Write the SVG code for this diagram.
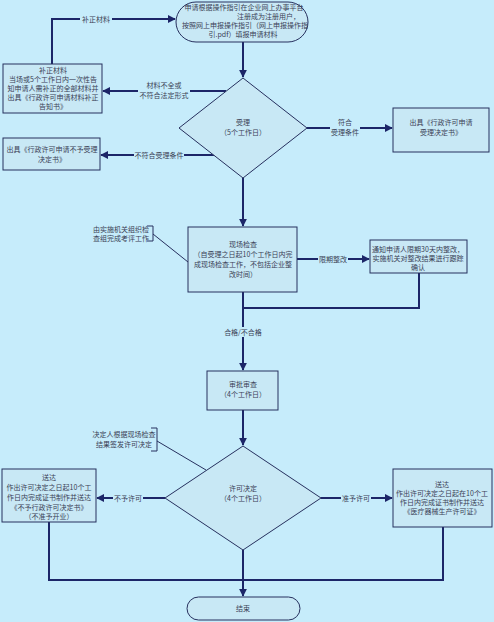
<svg xmlns="http://www.w3.org/2000/svg" width="494" height="622" viewBox="0 0 494 622">
<style>
text{font-family:"Noto Sans CJK SC","Liberation Sans",sans-serif;font-size:7px;fill:#3a3f55;text-anchor:middle}
.box{fill:#c8e8f5;stroke:#26305e;stroke-width:1}
.ln{fill:none;stroke:#1c2668;stroke-width:2}
.thin{fill:none;stroke:#26305e;stroke-width:1}
.lb{fill:#c6ecfb}
</style>
<defs>
<marker id="ah" viewBox="0 0 10 10" refX="9" refY="5" markerWidth="4" markerHeight="4" orient="auto" markerUnits="strokeWidth">
<path d="M0,0L10,5L0,10z" fill="#1c2668"/>
</marker>
</defs>
<rect x="0" y="0" width="494" height="622" fill="#c6ecfb"/>
<g id="connectors">
<path class="ln" d="M243,42V77" marker-end="url(#ah)"/>
<path class="ln" d="M226,91H103" marker-end="url(#ah)"/>
<path class="ln" d="M52,64V19H175" marker-end="url(#ah)"/>
<path class="ln" d="M307,128H392" marker-end="url(#ah)"/>
<path class="ln" d="M215,155H101" marker-end="url(#ah)"/>
<path class="ln" d="M243,178V226" marker-end="url(#ah)"/>
<path class="thin" d="M147,226H153V241H147M153,234L188,262"/>
<path class="ln" d="M297,259H369" marker-end="url(#ah)"/>
<path class="ln" d="M419,273V308H243"/>
<path class="ln" d="M243,292V370" marker-end="url(#ah)"/>
<path class="ln" d="M243,410V445" marker-end="url(#ah)"/>
<path class="thin" d="M151,428H157V451H151M157,441L206,470"/>
<path class="ln" d="M165,498H97" marker-end="url(#ah)"/>
<path class="ln" d="M321,498H392" marker-end="url(#ah)"/>
<path class="ln" d="M49,522V580H443V527"/>
<path class="ln" d="M243,550V596" marker-end="url(#ah)"/>
<rect class="lb" x="80" y="14" width="32" height="10"/>
<text x="96" y="22">补正材料</text>
<rect class="lb" x="138" y="80" width="52" height="20"/>
<text x="164" y="88">材料不全或</text>
<text x="164" y="98">不符合法定形式</text>
<rect class="lb" x="330" y="118" width="30" height="20"/>
<text x="345" y="125">符合</text>
<text x="345" y="135">受理条件</text>
<rect class="lb" x="134" y="150" width="50" height="10"/>
<text x="159" y="158">不符合受理条件</text>
<rect class="lb" x="318" y="254" width="30" height="10"/>
<text x="333" y="262">限期整改</text>
<rect class="lb" x="222" y="327" width="42" height="10"/>
<text x="243" y="335">合格/不合格</text>
<rect class="lb" x="113" y="493" width="30" height="10"/>
<text x="128" y="501">不予许可</text>
<rect class="lb" x="341" y="493" width="30" height="10"/>
<text x="356" y="501">准予许可</text>
</g>
<g id="start">
<rect class="box" x="176" y="2" width="132" height="40" rx="20"/>
<text x="244" y="10">申请根据操作指引在企业网上办事平台</text>
<text x="300" y="19" style="text-anchor:end">注册成为注册用户，</text>
<text x="245" y="28">按照网上申报操作指引（网上申报操作指</text>
<text x="243" y="37">引.pdf）填报申请材料</text>
</g>
<g id="buzheng">
<rect class="box" x="3" y="64" width="99" height="49"/>
<text x="53" y="73">补正材料</text>
<text x="53" y="82">当场或5个工作日内一次性告</text>
<text x="53" y="91">知申请人需补正的全部材料并</text>
<text x="53" y="100">出具《行政许可申请材料补正</text>
<text x="53" y="109">告知书》</text>
</g>
<g id="shouli">
<path class="box" d="M243,78L307,128L243,178L179,128z"/>
<text x="243" y="125">受理</text>
<text x="243" y="135">（5个工作日）</text>
</g>
<g id="shoulijueding">
<rect class="box" x="393" y="108" width="96" height="44"/>
<text x="441" y="125">出具《行政许可申请</text>
<text x="441" y="135">受理决定书》</text>
</g>
<g id="buyushouli">
<rect class="box" x="3" y="138" width="97" height="32"/>
<text x="52" y="152">出具《行政许可申请不予受理</text>
<text x="52" y="162">决定书》</text>
</g>
<g id="note1">
<text x="121" y="232">由实施机关组织检</text>
<text x="121" y="241">查组完成考评工作</text>
</g>
<g id="xianchang">
<rect class="box" x="188" y="227" width="109" height="65"/>
<text x="243" y="247">现场检查</text>
<text x="243" y="257">（自受理之日起10个工作日内完</text>
<text x="243" y="267">成现场检查工作，不包括企业整</text>
<text x="243" y="277">改时间）</text>
</g>
<g id="zhenggai">
<rect class="box" x="370" y="240" width="97" height="33"/>
<text x="418" y="252">通知申请人限期30天内整改，</text>
<text x="418" y="261">实施机关对整改结果进行跟踪</text>
<text x="418" y="270">确认</text>
</g>
<g id="shenpi">
<rect class="box" x="207" y="371" width="71" height="39"/>
<text x="243" y="387">审批审查</text>
<text x="243" y="397">（4个工作日）</text>
</g>
<g id="note2">
<text x="124" y="437">决定人根据现场检查</text>
<text x="124" y="447">结果签发许可决定</text>
</g>
<g id="xuke">
<path class="box" d="M243,446L321,498L243,550L165,498z"/>
<text x="243" y="491">许可决定</text>
<text x="243" y="501">（4个工作日）</text>
</g>
<g id="songda1">
<rect class="box" x="2" y="469" width="94" height="53"/>
<text x="49" y="480">送达</text>
<text x="49" y="490">作出许可决定之日起10个工</text>
<text x="49" y="500">作日内完成证书制作并送达</text>
<text x="49" y="510">《不予行政许可决定书》</text>
<text x="49" y="519">（不准予开业）</text>
</g>
<g id="songda2">
<rect class="box" x="393" y="469" width="99" height="58"/>
<text x="442" y="487">送达</text>
<text x="442" y="496">作出许可决定之日起在10个工</text>
<text x="442" y="505">作日内完成证书制作并送达</text>
<text x="442" y="514">《医疗器械生产许可证》</text>
</g>
<g id="end">
<rect class="box" x="187" y="597" width="113" height="23" rx="11.5"/>
<text x="243" y="611">结束</text>
</g>
</svg>
